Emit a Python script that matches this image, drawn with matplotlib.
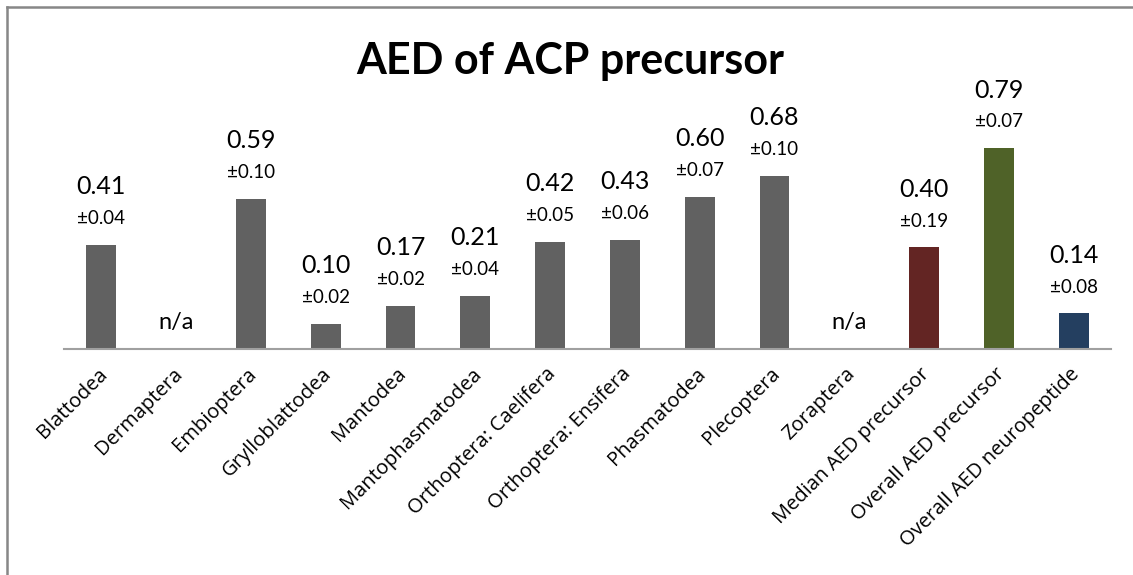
import matplotlib
matplotlib.use("Agg")
import matplotlib.pyplot as plt
from matplotlib.lines import Line2D
from matplotlib import transforms

categories = [
    "Blattodea", "Dermaptera", "Embioptera", "Grylloblattodea", "Mantodea",
    "Mantophasmatodea", "Orthoptera: Caelifera", "Orthoptera: Ensifera",
    "Phasmatodea", "Plecoptera", "Zoraptera", "Median AED precursor",
    "Overall AED precursor", "Overall AED neuropeptide",
]
values = [0.41, None, 0.59, 0.10, 0.17, 0.21, 0.42, 0.43, 0.60, 0.68, None,
          0.40, 0.79, 0.14]
errors = [0.04, None, 0.10, 0.02, 0.02, 0.04, 0.05, 0.06, 0.07, 0.10, None,
          0.19, 0.07, 0.08]
colors = ["#616161"] * 11 + ["#632523", "#4F6228", "#243F60"]

plt.rcParams["font.family"] = ["Lato", "DejaVu Sans"]

fig = plt.figure(figsize=(11.33, 5.75), dpi=100)
ax = fig.add_axes([64 / 1133, 1 - 349 / 575, 1047 / 1133, 254 / 575])

x = list(range(len(categories)))
heights = [v if v is not None else 0 for v in values]
ax.bar(x, heights, width=0.4, color=colors, zorder=2)
ax.set_xlim(-0.5, len(categories) - 0.5)
ax.set_ylim(0, 1.0)

for s in ["top", "right", "left"]:
    ax.spines[s].set_visible(False)
ax.spines["bottom"].set_color("#A0A0A0")
ax.spines["bottom"].set_linewidth(1.5)
ax.set_yticks([])
ax.tick_params(axis="x", length=0, pad=16)
ax.set_xticks(x)
ax.set_xticklabels(categories, rotation=45, ha="right", va="center",
                   rotation_mode="anchor", fontsize=14.5, fontfamily="Open Sans")
shift = transforms.ScaledTranslation(3 / 100, 0, fig.dpi_scale_trans)
for lbl in ax.get_xticklabels():
    lbl.set_transform(lbl.get_transform() + shift)

# value and ± labels above each bar, offset in screen points
for xi, v, e in zip(x, values, errors):
    if v is None:
        ax.annotate("n/a", (xi, 0), xytext=(0, 19), textcoords="offset points",
                    ha="center", va="center", fontsize=17)
        continue
    ax.annotate(f"{v:.2f}", (xi, v), xytext=(0, 42), textcoords="offset points",
                ha="center", va="center", fontsize=18)
    ax.annotate(f"\u00b1{e:.2f}", (xi, v), xytext=(0, 19), textcoords="offset points",
                ha="center", va="center", fontsize=13.5)

fig.text(570 / 1133, 1 - 61 / 575, "AED of ACP precursor", ha="center", va="center",
         fontsize=31, fontweight="bold")

# chart frame (left and top edges)
fig.add_artist(Line2D([7 / 1133, 7 / 1133], [0, 1 - 7 / 575], color="#878787", lw=1.8,
                      transform=fig.transFigure))
fig.add_artist(Line2D([7 / 1133, 1], [1 - 7 / 575, 1 - 7 / 575], color="#878787", lw=1.8,
                      transform=fig.transFigure))

fig.savefig("out.png", dpi=100)
